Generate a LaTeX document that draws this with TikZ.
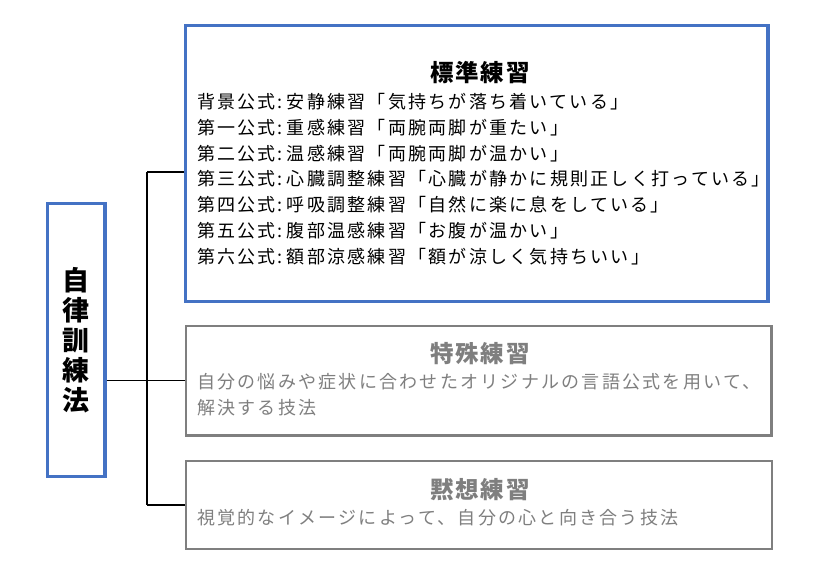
\documentclass[tikz,border=0pt]{standalone}
\usepackage{fontspec}
\setmainfont{Noto Sans CJK JP}
\newfontfamily\bodyfont{Noto Sans CJK JP}[LetterSpace=12.5]
\newfontfamily\titlefont{Noto Sans CJK JP}[LetterSpace=8]
\definecolor{blueC}{HTML}{4472C4}
\definecolor{greyC}{HTML}{7F7F7F}
\tikzset{
  bluebox/.style={draw=blueC, line width=3.2pt, inner sep=0pt, fill=white},
  greybox/.style={draw=greyC, line width=2.2pt, inner sep=0pt, fill=white},
  conn/.style={draw=black, line width=1.1pt},
  titletxt/.style={inner sep=0pt, font=\titlefont\bfseries\fontsize{23.5}{26}\selectfont},
  bodytxt/.style={inner sep=0pt, anchor=base west, font=\bodyfont\fontsize{18}{25}\selectfont}
}
\newcommand{\cln}{\kern2pt:\kern4pt}
\begin{document}
\begin{tikzpicture}[x=1pt,y=-1pt]
\useasboundingbox[fill=white] (0,0) rectangle (833,582);
% boxes
\node[bluebox, minimum width=582.5pt, minimum height=276pt] (T) at (476.75,163.5) {};
\node[greybox, minimum width=585.5pt, minimum height=109.5pt] (M) at (478.75,380.75) {};
\node[greybox, minimum width=586pt, minimum height=88pt] (B) at (479,505) {};
\node[bluebox, minimum width=57.5pt, minimum height=273pt,
      align=center, font=\bfseries\fontsize{27}{30}\selectfont] (L) at (76.25,340)
      {自\\律\\訓\\練\\法};
% connectors
\coordinate (jt) at (147,172);
\coordinate (jm) at (147,380.5);
\coordinate (jb) at (147,505);
\draw[conn] (L.east |- jm) -- (jm);
\draw[conn] (jt) -- (jb);
\draw[conn] (jt) -- (jt -| T.west);
\draw[conn] (jm) -- (jm -| M.west);
\draw[conn] (jb) -- (B.west);
% top box text
\node[titletxt] (Tt) at (480,73) {標準練習};
\node[bodytxt] (t0) at (197,108.8) {背景公式\cln 安静練習「気持ちが落ち着いている」};
\node[bodytxt] (t1) at (197,134.5) {第一公式\cln 重感練習「両腕両脚が重たい」};
\node[bodytxt] (t2) at (197,160.2) {第二公式\cln 温感練習「両腕両脚が温かい」};
\node[bodytxt] (t3) at (197,185.9) {第三公式\cln 心臓調整練習「心臓が静かに規則正しく打っている」};
\node[bodytxt] (t4) at (197,211.6) {第四公式\cln 呼吸調整練習「自然に楽に息をしている」};
\node[bodytxt] (t5) at (197,237.3) {第五公式\cln 腹部温感練習「お腹が温かい」};
\node[bodytxt] (t6) at (197,263.0) {第六公式\cln 額部涼感練習「額が涼しく気持ちいい」};
% middle box text
\node[titletxt, text=greyC] (Mt) at (480,354) {特殊練習};
\node[bodytxt, text=greyC] (m0) at (197,388.5) {自分の悩みや症状に合わせたオリジナルの言語公式を用いて、};
\node[bodytxt, text=greyC] (m1) at (197,414.5) {解決する技法};
% bottom box text
\node[titletxt, text=greyC] (Bt) at (480,490) {黙想練習};
\node[bodytxt, text=greyC] (b0) at (197,524.5) {視覚的なイメージによって、自分の心と向き合う技法};
\end{tikzpicture}
\end{document}
